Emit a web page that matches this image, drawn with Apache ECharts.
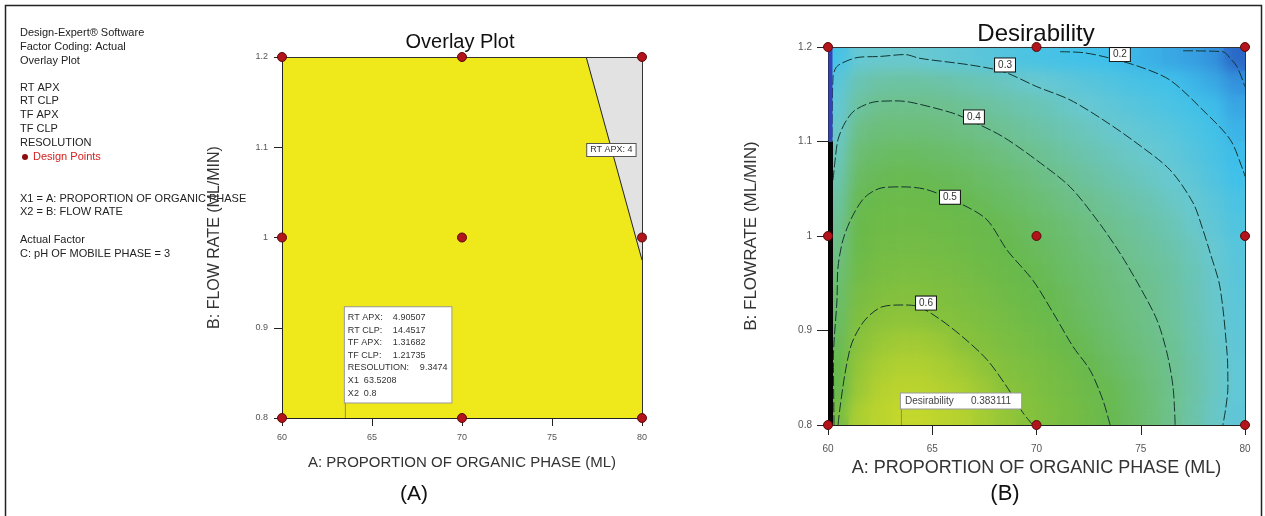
<!DOCTYPE html>
<html><head><meta charset="utf-8">
<script src="https://cdn.jsdelivr.net/npm/echarts@6/dist/echarts.min.js"></script>
<style>
html,body{margin:0;padding:0;background:#fff;}
#wrap{position:relative;width:1265px;height:516px;overflow:hidden;background:#fff;}
#heatSharp,#heatClip{position:absolute;left:828px;top:47px;width:417px;height:378px;overflow:hidden;}
#heatBlur{position:absolute;left:0;top:0;width:417px;height:378px;filter:blur(7px);}
#main{position:absolute;left:0;top:0;width:1265px;height:516px;}
</style></head>
<body><div id="wrap"><div id="heatSharp"></div><div id="heatClip"><div id="heatBlur"></div></div><div id="main"></div></div>
<script>
// ---------------- DATA ----------------
const designPoints = [[60,0.8],[60,1],[60,1.2],[70,0.8],[70,1],[70,1.2],[80,0.8],[80,1],[80,1.2]];
const feasibleRegion = [[60,0.8],[60,1.2],[76.9,1.2],[80,0.975],[80,0.8]];
const infeasibleRegion = [[76.9,1.2],[80,1.2],[80,0.975]];
const rtApxBoundary = [[76.9,1.2],[80,0.975]];
const rtApxLabel = [[78.3,1.097,'RT APX: 4']];
const optimumPoint = [63.5208, 0.8];
const optimumNames = ['RT APX:','RT CLP:','TF APX:','TF CLP:','RESOLUTION:','X1','X2'];
const optimumValues = ['4.90507','14.4517','1.31682','1.21735','9.3474','63.5208','0.8'];
const desirabilityAtOptimum = '0.383111';

const panelText = ['Design-Expert® Software','Factor Coding: Actual','Overlay Plot','RT APX','RT CLP','TF APX','TF CLP','RESOLUTION','Design Points','X1 = A: PROPORTION OF ORGANIC PHASE','X2 = B: FLOW RATE','Actual Factor','C: pH OF MOBILE PHASE = 3'];

// desirability surface, cell centres
const heatX = [60.5,61.5,62.5,63.5,64.5,65.5,66.5,67.5,68.5,69.5,70.5,71.5,72.5,73.5,74.5,75.5,76.5,77.5,78.5,79.5];
const heatY = [0.8125,0.8375,0.8625,0.8875,0.9125,0.9375,0.9625,0.9875,1.0125,1.0375,1.0625,1.0875,1.1125,1.1375,1.1625,1.1875];
const desirabilityRows = [
 [0.55,0.65,0.67,0.68,0.68,0.67,0.66,0.64,0.62,0.60,0.575,0.55,0.525,0.495,0.465,0.435,0.40,0.36,0.32,0.28],
 [0.50,0.63,0.66,0.67,0.67,0.66,0.65,0.63,0.605,0.585,0.56,0.54,0.515,0.49,0.46,0.43,0.40,0.365,0.325,0.285],
 [0.50,0.62,0.645,0.655,0.655,0.645,0.63,0.61,0.59,0.57,0.55,0.525,0.497,0.47,0.445,0.42,0.395,0.36,0.325,0.285],
 [0.48,0.605,0.625,0.635,0.635,0.625,0.605,0.585,0.565,0.545,0.525,0.503,0.48,0.455,0.43,0.41,0.39,0.355,0.32,0.28],
 [0.46,0.58,0.605,0.61,0.607,0.598,0.582,0.565,0.545,0.525,0.507,0.485,0.462,0.44,0.42,0.402,0.38,0.35,0.315,0.275],
 [0.45,0.555,0.58,0.587,0.585,0.577,0.563,0.547,0.528,0.51,0.495,0.473,0.452,0.432,0.413,0.397,0.375,0.345,0.31,0.27],
 [0.43,0.53,0.555,0.563,0.562,0.555,0.542,0.527,0.51,0.498,0.48,0.46,0.442,0.423,0.405,0.39,0.37,0.34,0.307,0.265],
 [0.41,0.51,0.535,0.54,0.54,0.533,0.522,0.51,0.50,0.482,0.465,0.447,0.428,0.41,0.393,0.375,0.357,0.33,0.298,0.26],
 [0.39,0.505,0.522,0.528,0.527,0.52,0.51,0.502,0.485,0.468,0.452,0.434,0.415,0.397,0.38,0.362,0.343,0.31,0.28,0.245],
 [0.37,0.49,0.508,0.512,0.51,0.503,0.493,0.478,0.463,0.447,0.432,0.41,0.395,0.378,0.36,0.343,0.32,0.298,0.265,0.23],
 [0.35,0.465,0.485,0.49,0.488,0.482,0.472,0.458,0.443,0.427,0.41,0.392,0.372,0.354,0.336,0.318,0.302,0.275,0.243,0.205],
 [0.33,0.44,0.46,0.465,0.462,0.455,0.445,0.43,0.416,0.402,0.385,0.367,0.35,0.332,0.316,0.302,0.28,0.255,0.225,0.195],
 [0.31,0.41,0.428,0.432,0.43,0.423,0.413,0.402,0.39,0.375,0.36,0.343,0.327,0.308,0.293,0.275,0.258,0.235,0.21,0.18],
 [0.29,0.375,0.398,0.403,0.402,0.397,0.388,0.376,0.363,0.35,0.335,0.315,0.297,0.28,0.262,0.246,0.23,0.21,0.195,0.16],
 [0.27,0.345,0.365,0.37,0.368,0.362,0.352,0.34,0.326,0.31,0.297,0.28,0.263,0.247,0.23,0.215,0.203,0.185,0.165,0.13],
 [0.22,0.295,0.305,0.307,0.302,0.29,0.278,0.265,0.25,0.235,0.222,0.212,0.205,0.198,0.185,0.175,0.162,0.15,0.13,0.07]
];

// contour lines (A, B)
const contour01 = [[77.03,1.196],[78.94,1.195],[79.29,1.188],[79.62,1.179],[80,1.158]];
const contour02 = [[71.13,1.195],[72.23,1.194],[73.38,1.189],[74.96,1.179],[76.40,1.165],[77.99,1.133],[79.29,1.102],[79.90,1.070],[80,1.063]];
const contour03 = [[60.19,1.091],[60.24,1.168],[60.38,1.178],[60.67,1.183],[61.44,1.189],[62.49,1.190],[63.69,1.192],[64.41,1.188],[66.81,1.181],[68.39,1.174],[70.02,1.158],[71.61,1.144],[73.19,1.123],[74.82,1.098],[76.40,1.070],[77.51,1.035],[77.99,1.006],[78.33,0.982],[78.80,0.946],[79.14,0.876],[79.18,0.840],[78.94,0.8]];
const contour04 = [[60.24,1.059],[60.34,1.080],[60.48,1.102],[60.82,1.120],[61.29,1.133],[62.25,1.142],[63.31,1.143],[64.08,1.141],[65.99,1.130],[66.95,1.121],[68.39,1.105],[70.02,1.080],[71.61,1.052],[72.90,1.017],[74.00,0.982],[74.96,0.946],[75.78,0.911],[76.26,0.876],[76.55,0.840],[76.65,0.8]];
const contour05 = [[60.29,0.8],[60.26,0.87],[60.43,0.932],[60.48,0.967],[60.72,0.996],[61.15,1.020],[61.77,1.041],[62.59,1.051],[63.55,1.052],[64.75,1.049],[66.47,1.033],[67.63,1.017],[68.59,0.985],[69.83,0.953],[70.79,0.919],[71.75,0.883],[72.57,0.858],[73.19,0.826],[73.53,0.8]];
const contour06 = [[60.48,0.8],[60.58,0.819],[60.82,0.855],[61.15,0.887],[61.77,0.911],[62.59,0.925],[63.55,0.927],[64.22,0.926],[65.23,0.914],[66.47,0.893],[67.63,0.869],[68.59,0.840],[69.35,0.813],[69.83,0.8]];
const contourLabels = [[74.0,1.192,'0.2'],[68.49,1.181,'0.3'],[67.0,1.126,'0.4'],[65.85,1.041,'0.5'],[64.7,0.929,'0.6']];
const edgeBlack = [[60.12,0.8],[60.12,1.1]];
const edgeBlue = [[60.12,1.1],[60.12,1.2]];

// ---------------- STYLE / LAYOUT ----------------
const FONT = "'Liberation Sans', Arial, sans-serif";
const heatColors = ['#23379e','#2f7ed8','#3fc0ea','#68c8d2','#6ec08c','#68b94c','#86c13c','#d2dc28'];
const panelLineY = [33,47,61,88,101,115,129,143,157,199,212,240,254];

// ---------------- HEATMAP LAYERS ----------------
function heatOption(){
  const data = [];
  desirabilityRows.forEach((row,j)=>row.forEach((v,i)=>data.push([i,j,v])));
  return {
    animation:false,
    grid:{left:0,right:0,top:0,bottom:0},
    xAxis:{type:'category',data:heatX.map(String),show:false},
    yAxis:{type:'category',data:heatY.map(String),show:false},
    visualMap:{show:false,min:0,max:0.7,dimension:2,inRange:{color:heatColors}},
    series:[{type:'heatmap',data:data,silent:true,itemStyle:{borderWidth:0}}]
  };
}
echarts.init(document.getElementById('heatSharp'),null,{renderer:'canvas'}).setOption(heatOption());
echarts.init(document.getElementById('heatBlur'),null,{renderer:'canvas'}).setOption(heatOption());

// ---------------- MAIN CHART ----------------
function polygonSeries(points,color,xi,yi){
  return {type:'custom',xAxisIndex:xi,yAxisIndex:yi,data:[points[0]],silent:true,z:1,
    renderItem:(params,api)=>({type:'polygon',shape:{points:points.map(p=>api.coord(p))},style:{fill:color,stroke:null}})};
}
function contourSeries(pts){
  return {type:'line',xAxisIndex:2,yAxisIndex:2,data:pts,showSymbol:false,smooth:0.3,silent:true,z:3,
    lineStyle:{color:'#133530',width:1,type:[10,3]}};
}
const hidden = {color:'rgba(0,0,0,0)',opacity:1};
function boxLabelSeries(xi,yi,data,fs,border){
  return {type:'scatter',xAxisIndex:xi,yAxisIndex:yi,data:data,symbolSize:1,silent:true,z:7,
    itemStyle:hidden,
    label:{show:true,opacity:1,position:'inside',formatter:p=>p.data[2],fontSize:fs,color:'#333',fontFamily:FONT,
      backgroundColor:'#fff',borderColor:border,borderWidth:1,padding:[2,3,1,3]}};
}
function axisPair(gi,isX,opts){
  const base = {gridIndex:gi,type:'value',min:isX?60:0.8,max:isX?80:1.2,interval:isX?5:0.1,z:4,splitLine:{show:false}};
  const main = Object.assign({},base,{
    position:isX?'bottom':'left',
    axisLine:{show:true,onZero:false,lineStyle:{color:'#222',width:1}},
    axisTick:{show:true,inside:false,length:opts.tick,lineStyle:{color:'#222'}},
    axisLabel:{margin:opts.margin,fontSize:opts.fs,color:'#555',fontFamily:FONT},
    name:opts.name,nameLocation:'middle',nameGap:opts.gap,
    nameTextStyle:{fontSize:opts.nfs,color:'#333',fontFamily:FONT}
  });
  const other = Object.assign({},base,{
    position:isX?'top':'right',
    axisLine:{show:true,onZero:false,lineStyle:{color:'#333',width:1}},
    axisTick:{show:false},axisLabel:{show:false}
  });
  return [main,other];
}

const xA = axisPair(0,true,{tick:8,margin:15,fs:9,name:'A: PROPORTION OF ORGANIC PHASE (ML)',gap:37,nfs:15});
const yA = axisPair(0,false,{tick:8,margin:14,fs:9,name:'B: FLOW RATE (ML/MIN)',gap:59,nfs:16});
const xB = axisPair(1,true,{tick:10,margin:19,fs:10,name:'A: PROPORTION OF ORGANIC PHASE (ML)',gap:33,nfs:18});
const yB = axisPair(1,false,{tick:11,margin:16,fs:10,name:'B: FLOWRATE (ML/MIN)',gap:68,nfs:17});

const tipRich = {
  k:{width:45,fontSize:9,color:'#333',lineHeight:12.6},
  kr:{width:72,fontSize:9,color:'#333',lineHeight:12.6},
  kx:{width:16,fontSize:9,color:'#333',lineHeight:12.6},
  v:{fontSize:9,color:'#333',lineHeight:12.6}
};
const tipText = optimumNames.map((n,i)=>'{'+(i<4?'k':(i===4?'kr':'kx'))+'|'+n+'}{v|'+optimumValues[i]+'}').join('\n');

const designStyle = {color:'#b3131a',borderColor:'#5a0a0a',borderWidth:1,opacity:1};

const chart = echarts.init(document.getElementById('main'),null,{renderer:'canvas'});
chart.setOption({
  animation:false,
  backgroundColor:'transparent',
  textStyle:{fontFamily:FONT},
  grid:[{left:282,top:57,width:360,height:361},{left:828,top:47,width:417,height:378}],
  xAxis:[xA[0],xA[1],xB[0],xB[1]],
  yAxis:[yA[0],yA[1],yB[0],yB[1]],
  series:[
    polygonSeries(feasibleRegion,'#efe81a',0,0),
    polygonSeries(infeasibleRegion,'#e2e2e2',0,0),
    {type:'line',xAxisIndex:0,yAxisIndex:0,data:rtApxBoundary,showSymbol:false,silent:true,z:3,lineStyle:{color:'#222',width:1}},
    boxLabelSeries(0,0,rtApxLabel,9,'#555'),
    {type:'scatter',xAxisIndex:0,yAxisIndex:0,data:[optimumPoint],symbolSize:1,silent:true,z:7,
      itemStyle:hidden,
      label:{show:true,opacity:1,position:[0,-15],align:'left',verticalAlign:'bottom',formatter:tipText,rich:tipRich,
        backgroundColor:'#fff',borderColor:'#999',borderWidth:1,padding:[4,4,3,3]}},
    {type:'scatter',xAxisIndex:0,yAxisIndex:0,data:designPoints,symbol:'circle',symbolSize:9,silent:true,z:8,itemStyle:designStyle},
    contourSeries(contour01),contourSeries(contour02),contourSeries(contour03),
    contourSeries(contour04),contourSeries(contour05),contourSeries(contour06),
    {type:'line',xAxisIndex:2,yAxisIndex:2,data:edgeBlack,showSymbol:false,silent:true,z:4,lineStyle:{color:'#050505',width:5}},
    {type:'line',xAxisIndex:2,yAxisIndex:2,data:edgeBlue,showSymbol:false,silent:true,z:4,lineStyle:{color:'#3242b8',width:4}},
    boxLabelSeries(2,2,contourLabels,10,'#111'),
    {type:'scatter',xAxisIndex:2,yAxisIndex:2,data:[optimumPoint],symbolSize:1,silent:true,z:7,
      itemStyle:hidden,
      label:{show:true,opacity:1,position:[0,-16],align:'left',verticalAlign:'bottom',
        formatter:'{k|Desirability}{v|'+desirabilityAtOptimum+'}',
        rich:{k:{width:66,fontSize:10,color:'#444'},v:{fontSize:10,color:'#444'}},
        backgroundColor:'#fff',borderColor:'#999',borderWidth:1,padding:[3,10,2,4]}},
    {type:'scatter',xAxisIndex:2,yAxisIndex:2,data:designPoints,symbol:'circle',symbolSize:9,silent:true,z:8,itemStyle:designStyle}
  ]
});

// graphics (text panel, titles, frame, leader lines)
const pA = chart.convertToPixel({xAxisIndex:0,yAxisIndex:0},optimumPoint);
const pB = chart.convertToPixel({xAxisIndex:2,yAxisIndex:2},optimumPoint);
const g = [];
g.push({type:'rect',shape:{x:5.5,y:5.5,width:1256,height:530},style:{fill:null,stroke:'#222',lineWidth:1.5},silent:true,z:0});
panelText.forEach((t,i)=>{
  const isDP = t==='Design Points';
  g.push({type:'text',x:isDP?33:20,y:panelLineY[i],silent:true,z:1,
    style:{text:t,font:'11px '+FONT,fill:isDP?'#d42020':'#222',textVerticalAlign:'middle'}});
});
g.push({type:'circle',shape:{cx:25,cy:157,r:3},style:{fill:'#8b0d0d'},silent:true,z:1});
g.push({type:'text',x:460,y:42,silent:true,style:{text:'Overlay Plot',font:'20px '+FONT,fill:'#111',textAlign:'center',textVerticalAlign:'middle'}});
g.push({type:'text',x:1036,y:34,silent:true,style:{text:'Desirability',font:'24px '+FONT,fill:'#111',textAlign:'center',textVerticalAlign:'middle'}});
g.push({type:'text',x:414,y:494,silent:true,style:{text:'(A)',font:'21px '+FONT,fill:'#111',textAlign:'center',textVerticalAlign:'middle'}});
g.push({type:'text',x:1005,y:494,silent:true,style:{text:'(B)',font:'22px '+FONT,fill:'#111',textAlign:'center',textVerticalAlign:'middle'}});
g.push({type:'line',shape:{x1:pA[0],y1:pA[1],x2:pA[0],y2:pA[1]-15},style:{stroke:'#888',lineWidth:1},silent:true,z:6});
g.push({type:'line',shape:{x1:pB[0],y1:pB[1],x2:pB[0],y2:pB[1]-16},style:{stroke:'#888',lineWidth:1},silent:true,z:6});
chart.setOption({graphic:g});
</script>
</body></html>
